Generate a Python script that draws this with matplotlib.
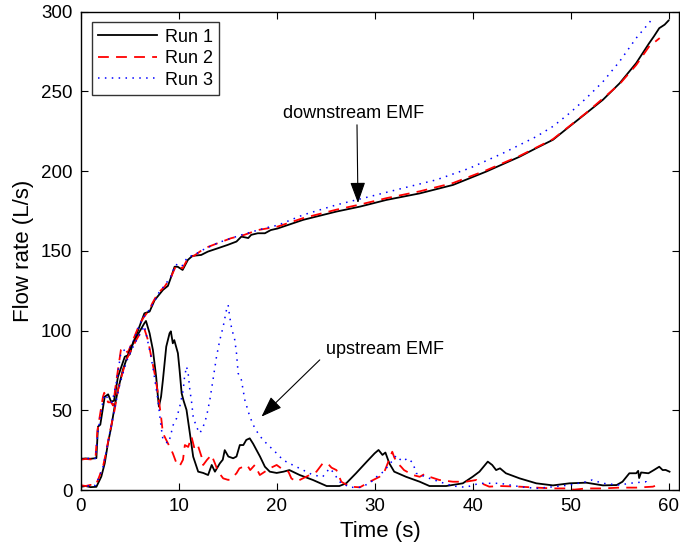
import matplotlib
matplotlib.use("Agg")
import matplotlib.pyplot as plt

# ---- downstream EMF (t in s, Q in L/s) ----
down_t1 = [0, 0.5, 1.0, 1.6, 1.76, 2.0, 2.45, 2.8, 3.1, 3.4, 3.8, 4.5, 5.0, 5.33, 5.84, 6.5, 7.03,
           7.54, 8.4, 8.9, 9.24, 9.58, 9.9, 10.4, 10.94, 11.4, 12.3, 12.98, 14.0, 15.0, 15.9, 16.4,
           17.1, 17.4, 18.07, 18.8, 19.4, 20.1, 22.7, 26.1, 28.5, 31.2, 34.6, 38.0, 41.4, 44.8,
           46.5, 48.2, 49.9, 51.6, 53.3, 55.0, 56.7, 58.0, 58.5, 59.05, 59.6, 60.0]
down_q1 = [19.5, 19.8, 19.6, 20, 39.7, 41, 58.5, 60, 55.4, 56, 71, 83.6, 85, 92, 100, 110.8, 111.9,
           119, 125.5, 128, 133.8, 140, 140, 138, 144.3, 146.8, 147.4, 149.5, 151.6, 153.7, 155.8,
           158.9, 158, 160, 161, 161, 163, 164, 169.4, 174.6, 177.7, 181.9, 186, 191.3, 199.7, 209,
           214.4, 219.6, 228, 236.3, 244.7, 255, 267.7, 280, 284.4, 289.6, 291.8, 294.4]

down_t2 = [0, 0.5, 1.0, 1.5, 1.7, 2.27, 2.4, 2.8, 3.1, 3.3, 3.6, 4.1, 4.5, 4.8, 5.2, 5.67, 6.0, 6.4,
           7.0, 7.3, 7.88, 8.56, 9.24, 9.75, 10.4, 10.94, 11.6, 12.64, 14.0, 15.35, 16.7, 18.07,
           20.1, 22.7, 26.1, 28.5, 31.2, 34.6, 38.0, 41.4, 44.8, 48.2, 51.6, 55.0, 56.7, 58.0, 59.1]
down_q2 = [19, 19.5, 19.2, 19.5, 37, 58.5, 61, 55, 55, 53, 67, 87.8, 89, 86, 92, 99, 104, 108,
           113, 117, 123.4, 127.5, 133.8, 141, 139, 145.3, 147, 151.6, 154.8, 157.9, 160, 163,
           165.2, 170.5, 175.8, 179, 183, 187.3, 192.5, 200.5, 209.5, 220, 236.5, 254.5, 266.5,
           278, 283.4]

down_t3 = [0, 0.5, 1.0, 1.5, 1.75, 2.3, 2.5, 2.9, 3.2, 3.6, 4.1, 4.5, 5.0, 5.5, 6.0, 6.5, 7.0, 7.5,
           8.0, 8.6, 9.2, 9.7, 10.3, 10.9, 11.6, 12.6, 14.0, 15.4, 16.7, 18.1, 19.3, 20.1, 22.7,
           26.1, 29.5, 32.9, 36.3, 39.7, 43.1, 46.5, 48.2, 49.9, 51.6, 53.3, 55.0, 56.7, 58.0, 58.4]
down_q3 = [20, 19.5, 20, 19.8, 36, 57, 60, 56, 55, 66, 86, 88, 89, 95, 104, 109, 113, 118, 124,
           128.5, 134, 141.5, 140, 146, 147.5, 151, 155, 158, 160.5, 163, 165, 166, 172.5, 178.8,
           184, 189.3, 194.5, 201.8, 211.2, 221.6, 228, 236.3, 245.7, 256, 268.7, 283.4, 292.8, 296]

# ---- upstream EMF ----
up_t1 = [0, 0.5, 1.0, 1.6, 2.1, 2.45, 2.78, 3.12, 3.46, 3.8, 4.3, 4.82, 5.33, 6.0, 6.5, 6.66, 7.03,
         7.37, 7.7, 7.88, 7.98, 8.2, 8.39, 8.73, 9.07, 9.2, 9.4, 9.55, 9.92, 10.09, 10.3, 10.5,
         10.8, 11.14, 11.48, 11.99, 12.5, 13.0, 13.37, 13.7, 14.2, 14.5, 14.7, 15.07, 15.56, 15.9,
         16.24, 16.6, 16.9, 17.25, 17.6, 17.94, 18.3, 18.8, 19.3, 20.0, 20.7, 21.3, 22.35, 23.7,
         25.1, 26.4, 27.1, 28.1, 29.2, 30.0, 30.4, 30.8, 31.1, 31.5, 32.0, 33.2, 34.6, 35.6, 37.3,
         39.0, 40.0, 40.7, 41.55, 42.0, 42.4, 42.8, 43.4, 44.8, 46.5, 48.2, 49.9, 51.6, 53.3,
         54.7, 55.3, 56.0, 56.7, 56.9, 57.0, 57.2, 57.95, 58.5, 59.05, 59.4, 59.7, 60.1]
up_q1 = [2, 2.5, 1.8, 2, 8.4, 16.7, 29.3, 39.7, 52.3, 62.7, 75.3, 84.7, 92, 99.3, 104.6, 106, 98.3,
         87.8, 71, 58.5, 52.3, 58.5, 69, 89.9, 98.3, 99.5, 92, 94, 85.8, 75.3, 60.7, 56,
         50.2, 35.6, 20.9, 11.5, 10.7, 9.4, 15.7, 11.5, 16.7, 19, 25, 21, 19.9, 21,
         28.2, 28.2, 31.4, 32.4, 29, 25.1, 21, 14.6, 11.5, 10.7, 11.5, 12.5, 9.4, 6.3,
         2.5, 2.5, 4.2, 10.5, 17.8, 23, 25.1, 22, 23.5, 16.7, 11.5, 8.3, 5.2, 2.5, 2.5,
         4.2, 8.3, 11.5, 17.8, 15.7, 12.5, 13.6, 10.5, 7.3, 4.2, 2.9, 4.2, 4.6, 2.9,
         3.1, 5.2, 10.5, 10.5, 12, 7.5, 11, 10.5, 12.5, 14.6, 12.5, 12.6, 11.5]

up_t2 = [0, 0.5, 1.0, 1.5, 1.76, 2.27, 2.6, 2.95, 3.46, 3.8, 4.2, 4.65, 5.16, 5.67, 6.18, 6.5, 6.86,
         7.2, 7.54, 7.88, 8.2, 8.39, 8.73, 9.07, 9.4, 9.78, 10.1, 10.44, 10.63, 10.97, 11.31,
         11.65, 12.0, 12.33, 12.5, 12.9, 13.35, 13.7, 14.03, 14.54, 15.07, 15.4, 15.9, 16.2,
         16.6, 17.0, 17.3, 17.77, 18.28, 18.8, 19.3, 20.0, 20.7, 21.2, 21.5, 22.0, 23.0, 24.06,
         24.7, 25.2, 25.6, 26.1, 26.6, 27.45, 28.5, 29.5, 30.5, 31.0, 31.4, 31.8, 32.0, 32.3,
         32.7, 33.0, 33.9, 34.6, 35.1, 35.6, 36.6, 38.0, 39.3, 40.4, 40.9, 41.7, 42.8, 44.8,
         46.5, 48.2, 50.0, 50.3, 51.6, 53.3, 55.0, 56.7, 58.4, 58.8]
up_q2 = [3, 2.5, 3.2, 3, 6.3, 14.6, 24, 35.6, 50.2, 62.7, 72, 81.6, 87.8, 94.1, 99.3, 101, 94.1,
         83.6, 73.2, 60.7, 46, 35.6, 31.4, 27.2, 23, 16.7, 15, 19, 28.2, 27, 33.4,
         25, 27.2, 20.9, 15.7, 19, 22, 16.7, 11.5, 7.3, 6.3, 7.3, 10.5, 13.6,
         14.6, 15.5, 12.5, 15.7, 9.4, 11.5, 13.6, 15.7, 12.5, 11.5, 7.3, 5.2, 8.3, 11.5,
         16.7, 16.7, 14, 12.5, 5.2, 2.1, 1.7, 5.2, 8.3, 11.5, 17.8, 24, 20.5, 17,
         14.6, 12.5, 9.4, 8.3, 10, 8.3, 6.3, 5.2, 5.2, 6.3, 4.2, 2.1, 2.5, 2.1,
         1.5, 1.0, 1.0, 0.2, 1.0, 1.0, 1.5, 1.5, 2.1, 3.0]

up_t3 = [0, 0.5, 1.0, 1.5, 1.8, 2.3, 2.6, 3.0, 3.5, 3.9, 4.3, 4.7, 5.2, 5.7, 6.2, 6.5, 7.03, 7.37,
         7.88, 8.2, 8.4, 8.9, 9.1, 9.44, 9.78, 10.1, 10.46, 10.6, 10.8, 10.97, 11.14, 11.3,
         11.48, 11.8, 12.16, 12.5, 12.84, 13.18, 13.5, 13.86, 14.2, 14.54, 14.88, 15.05, 15.2,
         15.4, 15.73, 15.9, 16.07, 16.4, 16.75, 17.26, 17.77, 18.1, 18.6, 19.3, 20.0, 20.65,
         21.3, 22.7, 23.7, 24.7, 25.4, 25.8, 26.4, 27.45, 28.5, 29.5, 30.2, 30.9, 31.87, 32.2,
         32.8, 33.4, 33.9, 34.25, 35.6, 36.6, 38.0, 39.3, 40.7, 42.8, 44.8, 46.5, 48.2, 49.9,
         51.6, 52.2, 53.3, 55.0, 56.0, 57.7, 57.9]
up_q3 = [2.5, 3, 2.2, 3, 7, 15, 24, 37, 52, 64, 73, 81, 88, 94, 99.5, 103, 87.8, 77,
         56.5, 39.7, 31.4, 29.3, 32.4, 40.8, 44.9, 52, 62.7, 71, 77.4, 73, 62.7, 56,
         46, 39.7, 35.6, 39.7, 46, 56.5, 69, 83.6, 94.1, 102.4, 113, 116, 109,
         101.4, 94, 85.8, 73.2, 69, 56.5, 46, 38.7, 35.6, 31.4, 27.2, 23, 18.8,
         16.7, 12.5, 9.4, 8.3, 13.6, 11, 5.2, 1.7, 1.7, 4.2, 8.3, 11.5, 18.8, 21.6,
         18, 19.9, 17, 10.5, 7.3, 5.2, 2.5, 1.7, 4.2, 4.2, 2.1, 1.0, 2.0, 3.1,
         5.2, 6.3, 4.2, 3.1, 4.2, 5.2, 3.1]

run_labels = ["Run 1", "Run 2", "Run 3"]
x_ticks = [0, 10, 20, 30, 40, 50, 60]
y_ticks = [0, 50, 100, 150, 200, 250, 300]

plt.rcParams["font.family"] = ["Liberation Sans", "DejaVu Sans"]

fig = plt.figure(figsize=(6.8, 5.52), dpi=100)
ax = fig.add_axes([0.1187, 0.1123, 0.8803, 0.8667])

styles = [
    dict(color="black", lw=1.3, linestyle="-"),
    dict(color="#ff0000", lw=1.3, dashes=(6, 4)),
    dict(color="#0000ff", lw=1.1, dashes=(1, 3.5)),
]

down = [(down_t1, down_q1), (down_t2, down_q2), (down_t3, down_q3)]
up = [(up_t1, up_q1), (up_t2, up_q2), (up_t3, up_q3)]

for (t, q), st, lab in zip(down, styles, run_labels):
    ax.plot(t, q, label=lab, **st)
for (t, q), st in zip(up, styles):
    ax.plot(t, q, **st)

ax.set_xlim(0, 61.1)
ax.set_ylim(0, 300)
ax.set_xticks(x_ticks)
ax.set_yticks(y_ticks)
ax.tick_params(direction="in", top=True, right=True, length=5, width=0.8,
               labelsize=13.5, pad=6)
for sp in ax.spines.values():
    sp.set_linewidth(1.0)

ax.set_xlabel("Time (s)", fontsize=16, labelpad=4)
ax.set_ylabel("Flow rate (L/s)", fontsize=16, labelpad=5)

leg = ax.legend(loc="upper left", fontsize=13, handlelength=3.3, handletextpad=0.4,
                borderaxespad=0.6, labelspacing=0.25, borderpad=0.35, frameon=True,
                fancybox=False)
leg.get_frame().set_edgecolor("black")
leg.get_frame().set_linewidth(1.0)

arrow_kw = dict(arrowstyle="-|>,head_length=1.3,head_width=0.47", color="black",
                lw=0.8, shrinkA=0, shrinkB=0)

ax.text(27.9, 236.3, "downstream EMF", fontsize=13, ha="center", va="center")
ax.annotate("", xy=(28.3, 179.9), xytext=(28.2, 229), arrowprops=arrow_kw)

ax.text(25.0, 87.8, "upstream EMF", fontsize=13, ha="left", va="center")
ax.annotate("", xy=(18.45, 46), xytext=(24.4, 81.6), arrowprops=arrow_kw)

fig.savefig("out.png", dpi=100)
